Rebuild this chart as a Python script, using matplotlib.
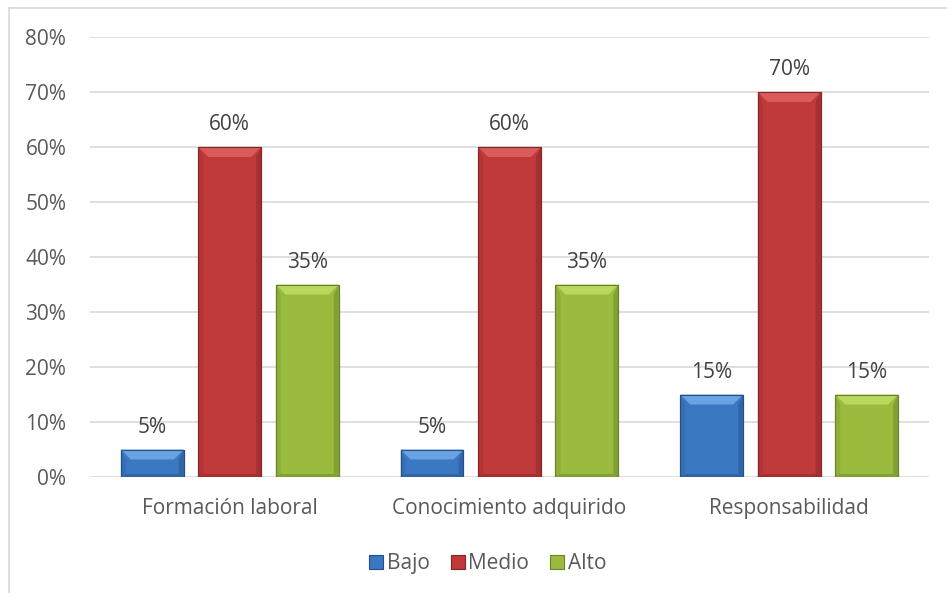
import matplotlib
matplotlib.use("Agg")
import matplotlib.pyplot as plt
from matplotlib.patches import Polygon
from matplotlib.lines import Line2D
import numpy as np

categories = ["Formación laboral", "Conocimiento adquirido", "Responsabilidad"]
series = ["Bajo", "Medio", "Alto"]
bajo = [5, 5, 15]
medio = [60, 60, 70]
alto = [35, 35, 15]
values = [bajo, medio, alto]
yticks = [0, 10, 20, 30, 40, 50, 60, 70, 80]

base = {"Bajo": "#3b78c2", "Medio": "#c0393b", "Alto": "#9bbb3f"}
light = {"Bajo": "#6aa3e3", "Medio": "#db5a5a", "Alto": "#b8d85e"}
dark = {"Bajo": "#2a5a95", "Medio": "#922a2b", "Alto": "#72902a"}
edge = {"Bajo": "#24508a", "Medio": "#842526", "Alto": "#66822a"}

plt.rcParams['font.family'] = ['Open Sans', 'DejaVu Sans']
FS = 15
fig = plt.figure(figsize=(9.47, 5.93), dpi=100)
ax = fig.add_axes([0.095, 0.1956, 0.886, 0.742])

x = np.arange(len(categories))
width = 0.225
offs = [-0.277, 0, 0.277]
ax.set_xlim(-0.5, 2.5)
ax.set_ylim(0, 80)

for i, s in enumerate(series):
    bars = ax.bar(x + offs[i], values[i], width, color=base[s], edgecolor=edge[s],
                  linewidth=0.8, zorder=3)
    for b, v in zip(bars, values[i]):
        x0, y0 = b.get_x(), b.get_y()
        w, h = b.get_width(), b.get_height()
        p0 = ax.transData.transform((0, 0))
        inv = ax.transData.inverted()
        dx = inv.transform(p0 + np.array([10, 0]))[0] - inv.transform(p0)[0]
        dy = inv.transform(p0 + np.array([0, 10]))[1] - inv.transform(p0)[1]
        dy = min(dy, h / 2.5)
        x1, y1 = x0 + w, y0 + h
        top = Polygon([(x0, y1), (x1, y1), (x1 - dx, y1 - dy), (x0 + dx, y1 - dy)],
                      closed=True, facecolor=light[s], edgecolor='none', zorder=4)
        right = Polygon([(x1, y0), (x1, y1), (x1 - dx * 0.5, y1 - dy), (x1 - dx * 0.5, y0 + dy * 0.3)],
                        closed=True, facecolor=dark[s], alpha=0.6, edgecolor='none', zorder=4)
        left = Polygon([(x0, y0), (x0, y1), (x0 + dx * 0.5, y1 - dy), (x0 + dx * 0.5, y0 + dy * 0.3)],
                       closed=True, facecolor=dark[s], alpha=0.3, edgecolor='none', zorder=4)
        bottom = Polygon([(x0, y0), (x1, y0), (x1 - dx * 0.5, y0 + dy * 0.3), (x0 + dx * 0.5, y0 + dy * 0.3)],
                         closed=True, facecolor=dark[s], alpha=0.6, edgecolor='none', zorder=4)
        for p in (top, left, right, bottom):
            ax.add_patch(p)
        ax.add_patch(plt.Rectangle((x0, y0), w, h, facecolor='none', edgecolor=edge[s],
                                   linewidth=0.8, zorder=5))
        ax.annotate(f"{v}%", (x0 + w / 2, y1), xytext=(0, 8.5), textcoords='offset points',
                    ha='center', va='bottom', fontsize=FS, color='#404040')

ax.set_xticks(x)
ax.set_xticklabels(categories, fontsize=FS, color='#595959')
ax.set_yticks(yticks)
ax.set_yticklabels([f"{t}%" for t in yticks], fontsize=FS, color='#595959')
ax.tick_params(axis='both', length=0)
ax.tick_params(axis='y', pad=17)
ax.tick_params(axis='x', pad=15)
ax.yaxis.grid(True, color='#d9d9d9', linewidth=1.2, zorder=0)
ax.set_axisbelow(True)
for sp in ax.spines.values():
    sp.set_visible(False)

handles = [Line2D([], [], marker='s', linestyle='none', markersize=9.5,
                  markerfacecolor=base[s], markeredgecolor=edge[s], markeredgewidth=0.8)
           for s in series]
leg = fig.legend(handles, series, loc='center', bbox_to_anchor=(0.515, 0.049), ncol=3,
                 frameon=False, fontsize=FS, handlelength=0.7, handletextpad=0.15,
                 columnspacing=1.0)
for t in leg.get_texts():
    t.set_color('#595959')

fig.add_artist(Line2D([0.0095, 0.0095], [0, 0.986], transform=fig.transFigure,
                      color='#d9d9d9', linewidth=1.2))
fig.add_artist(Line2D([0.0095, 1.0], [0.986, 0.986], transform=fig.transFigure,
                      color='#d9d9d9', linewidth=1.2))

fig.savefig("out.png", dpi=100)
